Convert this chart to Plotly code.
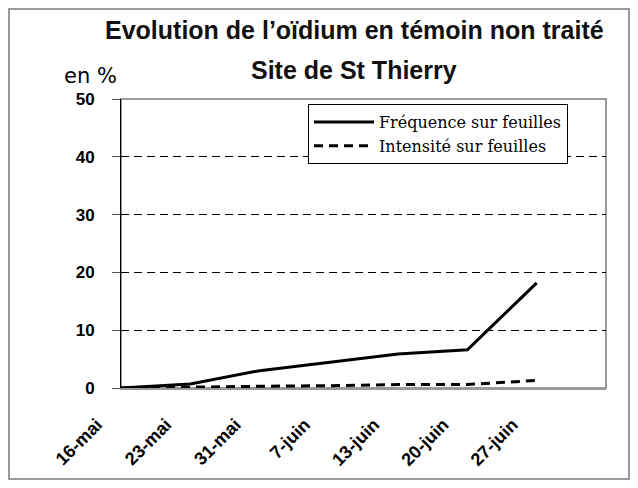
import plotly.graph_objects as go

dates = ["16-mai", "23-mai", "31-mai", "7-juin", "13-juin", "20-juin", "27-juin"]
frequence = [0.0, 0.7, 3.0, 4.4, 5.9, 6.6, 18.2]
intensite = [0.0, 0.2, 0.3, 0.4, 0.6, 0.6, 1.3]
y_ticks = [0, 10, 20, 30, 40, 50]

idx = list(range(len(dates)))

fig = go.Figure()
fig.add_trace(go.Scatter(x=idx, y=frequence, mode="lines", name="Fréquence sur feuilles",
                         line=dict(color="black", width=3)))
fig.add_trace(go.Scatter(x=idx, y=intensite, mode="lines", name="Intensité sur feuilles",
                         line=dict(color="black", width=3, dash="9px,6px")))

L, R, T, B = 121, 32, 99, 100
W, H = 638, 488
pw, ph = W - L - R, H - T - B

def px(xp):
    return (xp - L) / pw

def py(yp):
    return (H - B - yp) / ph

title_font = dict(family="Liberation Sans", size=25, color="#111", weight="bold")

fig.update_layout(
    width=W, height=H,
    margin=dict(l=L, r=R, t=T, b=B, autoexpand=False),
    paper_bgcolor="white", plot_bgcolor="white",
    showlegend=True,
    legend=dict(x=px(308), y=py(104), xanchor="left", yanchor="top",
                bordercolor="black", borderwidth=1, bgcolor="white",
                font=dict(family="DejaVu Serif", size=16, color="black"),
                itemwidth=60, tracegroupgap=0),
    xaxis=dict(range=[0, 7], tickmode="array", tickvals=idx, ticktext=dates,
               tickangle=-45, showgrid=False, zeroline=False, automargin=False,
               showline=True, linecolor="#999", linewidth=2,
               ticks="", ticklabelshift=-24, ticklabelstandoff=17,
               tickfont=dict(family="Liberation Sans", size=18, color="black", weight="bold")),
    yaxis=dict(range=[0, 50], tickmode="array", tickvals=y_ticks, automargin=False,
               showgrid=True, gridcolor="black", gridwidth=1, griddash="8px,5px",
               zeroline=False, showline=True, linecolor="black", linewidth=1,
               ticks="outside", ticklen=8, tickcolor="#555", ticklabelstandoff=14,
               tickfont=dict(family="Liberation Sans", size=17, color="black", weight="bold")),
    annotations=[
        dict(text="Evolution de l’oïdium en témoin non traité", xref="paper", yref="paper",
             x=px(354), y=py(30), xanchor="center", yanchor="middle", showarrow=False,
             font=title_font),
        dict(text="Site de St Thierry", xref="paper", yref="paper",
             x=px(354), y=py(70), xanchor="center", yanchor="middle", showarrow=False,
             font=title_font),
        dict(text="en %", xref="paper", yref="paper", x=px(62), y=py(76),
             xanchor="left", yanchor="middle", showarrow=False,
             font=dict(family="DejaVu Sans", size=21, color="black")),
    ],
    shapes=[
        dict(type="rect", xref="paper", yref="paper", x0=0, x1=1, y0=0, y1=1,
             line=dict(color="#999", width=2), layer="below"),
        dict(type="rect", xref="paper", yref="paper", x0=px(9), x1=px(629), y0=py(479), y1=py(9),
             line=dict(color="#999", width=2), layer="below"),
    ],
)

fig.write_html("out.html", config={"displayModeBar": False},
               post_script="document.body.style.margin='0';")
